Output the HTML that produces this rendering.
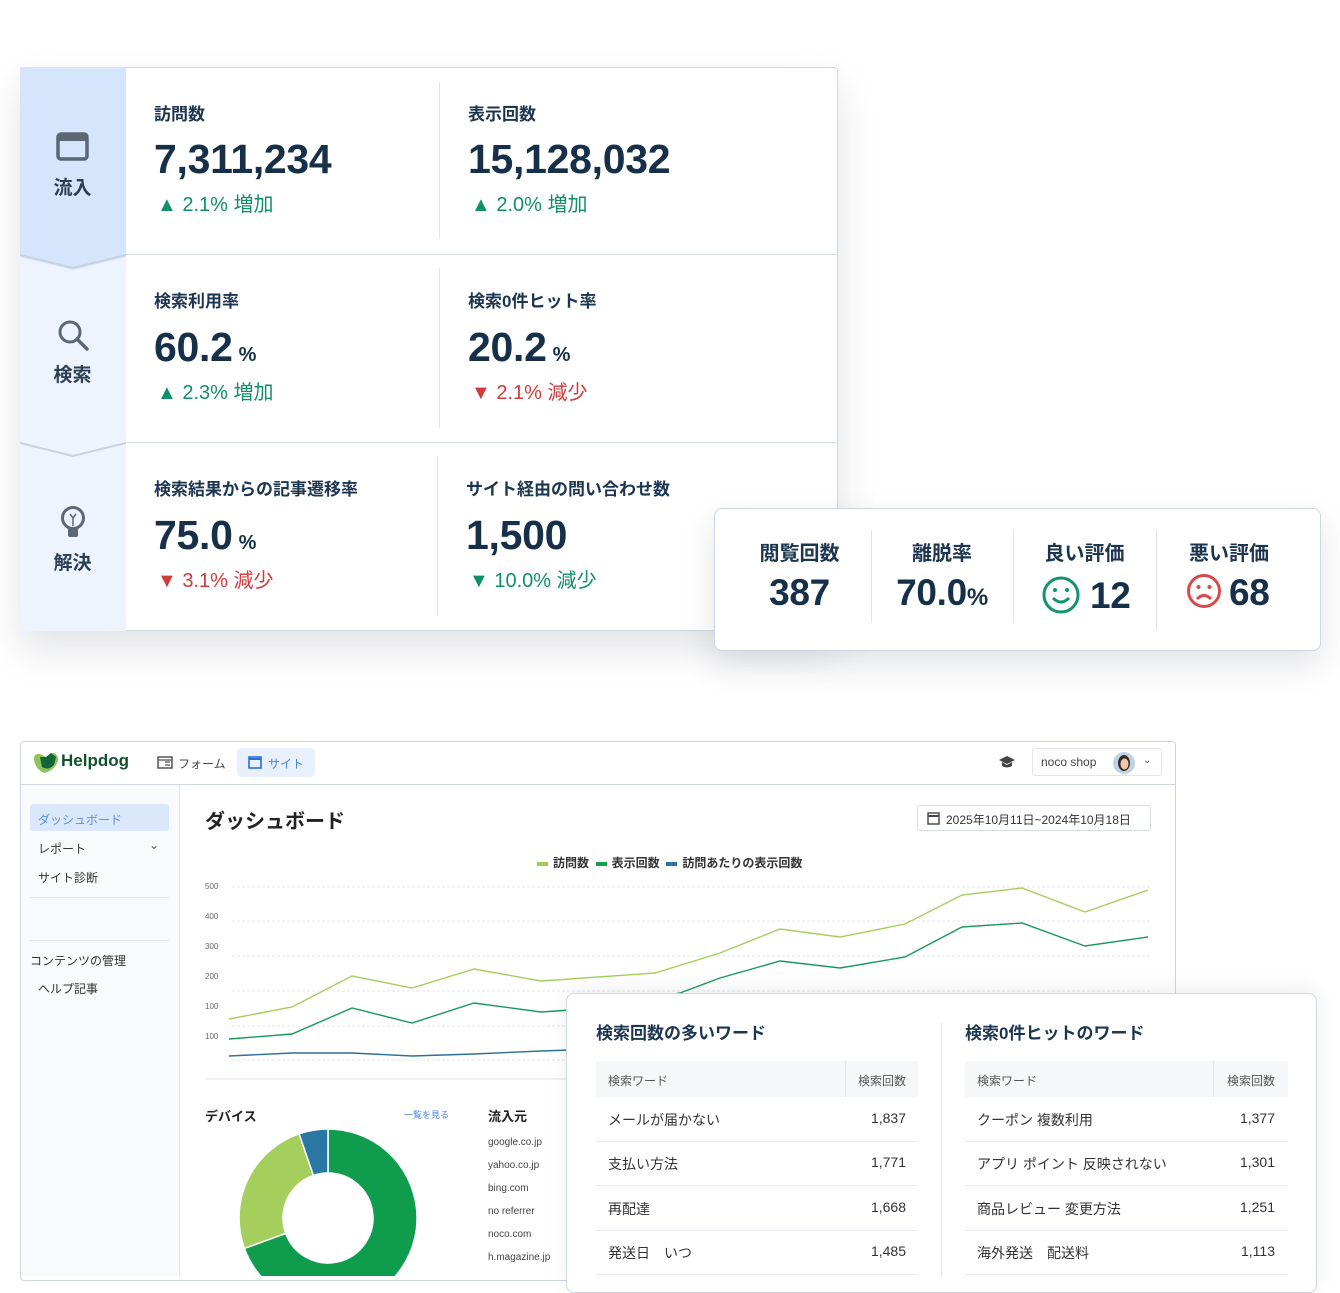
<!DOCTYPE html>
<html><head><meta charset="utf-8"><style>
*{margin:0;padding:0;box-sizing:border-box}
body{width:1340px;height:1276px;background:#fff;position:relative;overflow:hidden;font-family:"Liberation Sans","Noto Sans CJK JP",sans-serif;color:#1c3550}
.a{position:absolute;white-space:nowrap}
.lbl{font-size:17px;font-weight:bold;color:#1c3550}
.big{font-size:41px;font-weight:bold;color:#163049;letter-spacing:-0.3px}
.pct{font-size:20px;font-weight:bold;margin-left:6px;letter-spacing:0}
.up{font-size:20px;color:#0f8f6a}
.dn{font-size:20px;color:#d23b3b}
.side{font-size:19px;font-weight:bold;color:#2a3f55;width:105px;text-align:center}
.vd{position:absolute;width:1px;background:#dfe4ea}
.sb{font-size:12px;color:#333}
.cell{font-size:14px;color:#333}
.num{font-size:14px;color:#333;text-align:right;width:80px}
.th{font-size:12px;color:#555}
.src{font-size:10px;color:#444}
</style></head><body>

<!-- top card -->
<div class="a" style="left:20px;top:67px;width:818px;height:564px;background:#fff;border:1px solid #cfd9e6;border-radius:4px;box-shadow:0 18px 40px rgba(30,40,60,.13)"></div>
<svg class="a" style="left:20px;top:67px" width="106" height="564">
<rect x="0" y="0" width="106" height="564" fill="#eef4fd"/>
<path d="M0 0H106V190L53 203L0 190Z" fill="#d5e5fb"/>
<path d="M0 188L53 201L106 188" fill="none" stroke="#c9d3df" stroke-width="2"/>
<path d="M0 376L53 389L106 376" fill="none" stroke="#c9d3df" stroke-width="2"/>
</svg>
<div class="a" style="left:126px;top:254px;width:712px;height:1px;background:#d3dbe5"></div>
<div class="a" style="left:126px;top:442px;width:712px;height:1px;background:#d3dbe5"></div>
<div class="vd" style="left:439px;top:82px;height:157px"></div>
<div class="vd" style="left:439px;top:268px;height:160px"></div>
<div class="vd" style="left:437px;top:456px;height:160px"></div>
<!-- icons -->
<svg class="a" style="left:56px;top:132px" width="34" height="30"><rect x="2" y="2" width="29" height="25" rx="3" fill="none" stroke="#5b6775" stroke-width="3.5"/><rect x="2" y="2" width="29" height="7" fill="#5b6775"/></svg>
<div class="a side" style="left:20px;top:173px">流入</div>
<svg class="a" style="left:56px;top:318px" width="34" height="34"><circle cx="14" cy="14" r="10" fill="none" stroke="#5b6775" stroke-width="3"/><path d="M21 21L31 31" stroke="#5b6775" stroke-width="3.5" stroke-linecap="round"/></svg>
<div class="a side" style="left:20px;top:360px">検索</div>
<svg class="a" style="left:58px;top:504px" width="30" height="36"><circle cx="15" cy="14" r="10.5" fill="none" stroke="#5b6775" stroke-width="3"/><rect x="10" y="24" width="10" height="9" rx="2" fill="#5b6775"/><path d="M12 10L15 14L18 10M15 14V22" stroke="#5b6775" stroke-width="1.5" fill="none"/></svg>
<div class="a side" style="left:20px;top:548px">解決</div>

<div class="a lbl" style="left:154px;top:100px">訪問数</div>
<div class="a big" style="left:154px;top:136px">7,311,234</div>
<div class="a up" style="left:157px;top:188px">▲ 2.1% 増加</div>
<div class="a lbl" style="left:468px;top:100px">表示回数</div>
<div class="a big" style="left:468px;top:136px">15,128,032</div>
<div class="a up" style="left:471px;top:188px">▲ 2.0% 増加</div>

<div class="a lbl" style="left:154px;top:287px">検索利用率</div>
<div class="a big" style="left:154px;top:324px">60.2<span class="pct">%</span></div>
<div class="a up" style="left:157px;top:376px">▲ 2.3% 増加</div>
<div class="a lbl" style="left:468px;top:287px">検索0件ヒット率</div>
<div class="a big" style="left:468px;top:324px">20.2<span class="pct">%</span></div>
<div class="a dn" style="left:471px;top:376px">▼ 2.1% 減少</div>

<div class="a lbl" style="left:154px;top:475px">検索結果からの記事遷移率</div>
<div class="a big" style="left:154px;top:512px">75.0<span class="pct">%</span></div>
<div class="a dn" style="left:157px;top:564px">▼ 3.1% 減少</div>
<div class="a lbl" style="left:466px;top:475px">サイト経由の問い合わせ数</div>
<div class="a big" style="left:466px;top:512px">1,500</div>
<div class="a up" style="left:469px;top:564px">▼ 10.0% 減少</div>

<!-- review card -->
<div class="a" style="left:714px;top:508px;width:607px;height:143px;background:#fff;border:1px solid #cdd6e2;border-radius:8px;box-shadow:0 14px 34px rgba(30,40,60,.13)"></div>
<div class="vd" style="left:871px;top:530px;height:93px"></div>
<div class="vd" style="left:1013px;top:530px;height:93px"></div>
<div class="vd" style="left:1156px;top:530px;height:100px"></div>
<div class="a lbl" style="left:714px;width:171px;text-align:center;top:537px;font-size:20px">閲覧回数</div>
<div class="a big" style="left:714px;width:171px;text-align:center;top:572px;font-size:37px">387</div>
<div class="a lbl" style="left:871px;width:142px;text-align:center;top:537px;font-size:20px">離脱率</div>
<div class="a big" style="left:871px;width:142px;text-align:center;top:572px;font-size:37px">70.0<span style="font-size:24px">%</span></div>
<div class="a lbl" style="left:1013px;width:143px;text-align:center;top:537px;font-size:20px">良い評価</div>
<svg class="a" style="left:1041px;top:575px" width="40" height="40"><circle cx="20" cy="20" r="17" fill="none" stroke="#11946a" stroke-width="3"/><circle cx="14" cy="15" r="2" fill="#11946a"/><circle cx="26" cy="15" r="2" fill="#11946a"/><path d="M12 23Q20 31 28 23" fill="none" stroke="#11946a" stroke-width="3"/></svg>
<div class="a big" style="left:1090px;top:575px;font-size:37px">12</div>
<div class="a lbl" style="left:1156px;width:146px;text-align:center;top:537px;font-size:20px">悪い評価</div>
<svg class="a" style="left:1186px;top:573px" width="36" height="36"><circle cx="18" cy="18" r="15.5" fill="none" stroke="#d94a4a" stroke-width="3"/><circle cx="12.5" cy="14" r="2" fill="#d94a4a"/><circle cx="23.5" cy="14" r="2" fill="#d94a4a"/><path d="M11 26Q18 19 25 26" fill="none" stroke="#d94a4a" stroke-width="3"/></svg>
<div class="a big" style="left:1229px;top:572px;font-size:37px">68</div>

<!-- dashboard -->
<div class="a" style="left:20px;top:741px;width:1156px;height:540px;background:#fff;border:1px solid #cfd6df;border-radius:4px"></div>
<div class="a" style="left:21px;top:785px;width:159px;height:491px;background:#f8fafc;border-right:1px solid #e3e7ec"></div>
<div class="a" style="left:21px;top:784px;width:1154px;height:1px;background:#cfd6df"></div>
<svg class="a" style="left:32px;top:751px" width="28" height="24"><path d="M2 8Q2 2 8 3L14 6L20 2Q27 3 26 10Q22 20 12 22Q3 18 2 8Z" fill="#8fc45a"/><path d="M8 6L14 6L19 2L24 6L22 14Q16 20 10 16Z" fill="#11663a"/></svg>
<div class="a" style="left:61px;top:751px;font-size:17px;font-weight:bold;color:#11512e">Helpdog</div>
<svg class="a" style="left:157px;top:756px" width="16" height="13"><rect x="1" y="1" width="14" height="11" fill="none" stroke="#555" stroke-width="1.5"/><path d="M1 4H15M8 6H13M8 9H13" stroke="#555" stroke-width="1.3"/></svg>
<div class="a" style="left:178px;top:755px;font-size:12px;color:#444">フォーム</div>
<div class="a" style="left:237px;top:748px;width:78px;height:29px;background:#e8f0fc;border-radius:4px"></div>
<svg class="a" style="left:248px;top:756px" width="14" height="13"><rect x="1" y="1" width="12" height="11" fill="none" stroke="#2a6ed8" stroke-width="1.6"/><path d="M1 3H13" stroke="#2a6ed8" stroke-width="2"/></svg>
<div class="a" style="left:268px;top:755px;font-size:12px;color:#4a85de">サイト</div>
<svg class="a" style="left:998px;top:755px" width="18" height="15"><path d="M1 5L9 1L17 5L9 9Z" fill="#444"/><path d="M4 7V11Q9 14 14 11V7L9 10Z" fill="#444"/></svg>
<div class="a" style="left:1032px;top:748px;width:130px;height:28px;border:1px solid #e1e5ea;border-radius:3px"></div>
<div class="a" style="left:1041px;top:755px;font-size:12px;color:#444">noco shop</div>
<svg class="a" style="left:1112px;top:751px" width="24" height="24"><circle cx="12" cy="12" r="11" fill="#bcd4e6"/><ellipse cx="12" cy="12" rx="6" ry="8" fill="#3a2a22"/><ellipse cx="12.5" cy="13" rx="4" ry="5.5" fill="#f0c9ac"/></svg>
<div class="a" style="left:1143px;top:755px;font-size:10px;color:#555">⌄</div>

<div class="a" style="left:30px;top:804px;width:139px;height:27px;background:#dbe8fc;border-radius:3px"></div>
<div class="a sb" style="left:38px;top:811px;color:#5a8fe0">ダッシュボード</div>
<div class="a sb" style="left:38px;top:840px">レポート</div>
<div class="a sb" style="left:149px;top:838px;color:#555">⌄</div>
<div class="a sb" style="left:38px;top:869px">サイト診断</div>
<div class="a" style="left:30px;top:897px;width:139px;height:1px;background:#e3e7ec"></div>
<div class="a" style="left:30px;top:940px;width:139px;height:1px;background:#e3e7ec"></div>
<div class="a sb" style="left:30px;top:952px">コンテンツの管理</div>
<div class="a sb" style="left:38px;top:980px">ヘルプ記事</div>

<div class="a" style="left:205px;top:805px;font-size:20px;font-weight:bold;color:#222">ダッシュボード</div>
<div class="a" style="left:917px;top:805px;width:234px;height:26px;border:1px solid #d8dde3;border-radius:3px"></div>
<svg class="a" style="left:927px;top:811px" width="13" height="14"><rect x="1" y="2" width="11" height="11" fill="none" stroke="#444" stroke-width="1.4"/><path d="M1 5H12" stroke="#444" stroke-width="2"/></svg>
<div class="a" style="left:946px;top:811px;font-size:12px;color:#333">2025年10月11日~2024年10月18日</div>

<div class="a" style="left:537px;top:854px;font-size:12px;font-weight:bold;color:#333"><span style="display:inline-block;width:11px;height:4px;background:#9fcd57;vertical-align:middle;margin-right:5px"></span>訪問数 &nbsp;<span style="display:inline-block;width:11px;height:4px;background:#11a050;vertical-align:middle;margin-right:5px"></span>表示回数 &nbsp;<span style="display:inline-block;width:11px;height:4px;background:#2f74a8;vertical-align:middle;margin-right:5px"></span>訪問あたりの表示回数</div>

<svg class="a" style="left:0;top:0" width="1340" height="1276">
<g font-family="Liberation Sans" font-size="8" fill="#666">
<text x="205" y="889">500</text><text x="205" y="919">400</text><text x="205" y="949">300</text><text x="205" y="979">200</text><text x="205" y="1009">100</text><text x="205" y="1039">100</text></g>
<g stroke="#e4e6e9" stroke-dasharray="3,2"><path d="M232 887H1152M232 921H1152M232 956H1152M232 991H1152M232 1026H1152M232 1060H1152"/></g>
<polyline fill="none" stroke="#a4cf5c" stroke-width="1.4" points="229,1019 292,1007 352,976 412,988 474,969 541,981 655,973 720,953 780,929 840,937 905,924 962,895 1022,888 1085,912 1148,890"/>
<polyline fill="none" stroke="#17995a" stroke-width="1.4" points="229,1039 292,1034 352,1008 412,1023 474,1003 541,1012 600,1008 680,993 720,978 780,961 840,968 905,957 962,927 1022,923 1085,946 1148,937"/>
<polyline fill="none" stroke="#2d6f9a" stroke-width="1.4" points="229,1056 292,1053 352,1053 412,1056 474,1054 541,1051 600,1049"/>
<path d="M205 1079H600" stroke="#dfe3e8"/>
<g transform="translate(328,1218)">
<path d="M0,-89A89,89 0 1,1 -83.6,30.4L-42.3,15.4A45,45 0 1,0 0,-45Z" fill="#0f9d4d" stroke="#fff" stroke-width="1.5"/>
<path d="M-83.6,30.4A89,89 0 0,1 -28.9,-84.2L-14.6,-42.6A45,45 0 0,0 -42.3,15.4Z" fill="#a4cf5c" stroke="#fff" stroke-width="1.5"/>
<path d="M-28.9,-84.2A89,89 0 0,1 0,-89L0,-45A45,45 0 0,0 -14.6,-42.6Z" fill="#2b77a3" stroke="#fff" stroke-width="1.5"/>
</g>
</svg>
<div class="a" style="left:205px;top:1106px;font-size:13px;font-weight:bold;color:#222">デバイス</div>
<div class="a" style="left:404px;top:1108px;font-size:9px;color:#4a85de">一覧を見る</div>
<div class="a" style="left:488px;top:1106px;font-size:13px;font-weight:bold;color:#222">流入元</div>
<div class="a src" style="left:488px;top:1137px">google.co.jp</div>
<div class="a src" style="left:488px;top:1160px">yahoo.co.jp</div>
<div class="a src" style="left:488px;top:1183px">bing.com</div>
<div class="a src" style="left:488px;top:1206px">no referrer</div>
<div class="a src" style="left:488px;top:1229px">noco.com</div>
<div class="a src" style="left:488px;top:1252px">h.magazine.jp</div>

<!-- table card -->
<div class="a" style="left:566px;top:993px;width:751px;height:300px;background:#fff;border:1px solid #cfd6df;border-radius:8px;box-shadow:0 -4px 20px rgba(30,40,60,.08)"></div>
<div class="vd" style="left:941px;top:1023px;height:253px;background:#e6e9ed"></div>
<div class="a lbl" style="left:596px;top:1019px">検索回数の多いワード</div>
<div class="a lbl" style="left:965px;top:1019px">検索0件ヒットのワード</div>

<div class="a" style="left:596px;top:1061px;width:322px;height:36px;background:#f5f7f9"></div>
<div class="a" style="left:845px;top:1061px;width:1px;height:36px;background:#e2e6ea"></div>
<div class="a th" style="left:608px;top:1072px">検索ワード</div>
<div class="a th" style="left:858px;top:1072px">検索回数</div>
<div class="a" style="left:965px;top:1061px;width:323px;height:36px;background:#f5f7f9"></div>
<div class="a" style="left:1213px;top:1061px;width:1px;height:36px;background:#e2e6ea"></div>
<div class="a th" style="left:977px;top:1072px">検索ワード</div>
<div class="a th" style="left:1227px;top:1072px">検索回数</div>

<div class="a" style="left:596px;top:1141px;width:322px;height:1px;background:#e6e9ed;box-shadow:0 44px 0 #e6e9ed,0 89px 0 #e6e9ed,0 133px 0 #e6e9ed"></div>
<div class="a" style="left:965px;top:1141px;width:323px;height:1px;background:#e6e9ed;box-shadow:0 44px 0 #e6e9ed,0 89px 0 #e6e9ed,0 133px 0 #e6e9ed"></div>

<div class="a cell" style="left:608px;top:1110px">メールが届かない</div><div class="a num" style="left:826px;top:1110px">1,837</div>
<div class="a cell" style="left:608px;top:1154px">支払い方法</div><div class="a num" style="left:826px;top:1154px">1,771</div>
<div class="a cell" style="left:608px;top:1199px">再配達</div><div class="a num" style="left:826px;top:1199px">1,668</div>
<div class="a cell" style="left:608px;top:1243px">発送日　いつ</div><div class="a num" style="left:826px;top:1243px">1,485</div>
<div class="a cell" style="left:977px;top:1110px">クーポン 複数利用</div><div class="a num" style="left:1195px;top:1110px">1,377</div>
<div class="a cell" style="left:977px;top:1154px">アプリ ポイント 反映されない</div><div class="a num" style="left:1195px;top:1154px">1,301</div>
<div class="a cell" style="left:977px;top:1199px">商品レビュー 変更方法</div><div class="a num" style="left:1195px;top:1199px">1,251</div>
<div class="a cell" style="left:977px;top:1243px">海外発送　配送料</div><div class="a num" style="left:1195px;top:1243px">1,113</div>
</body></html>
